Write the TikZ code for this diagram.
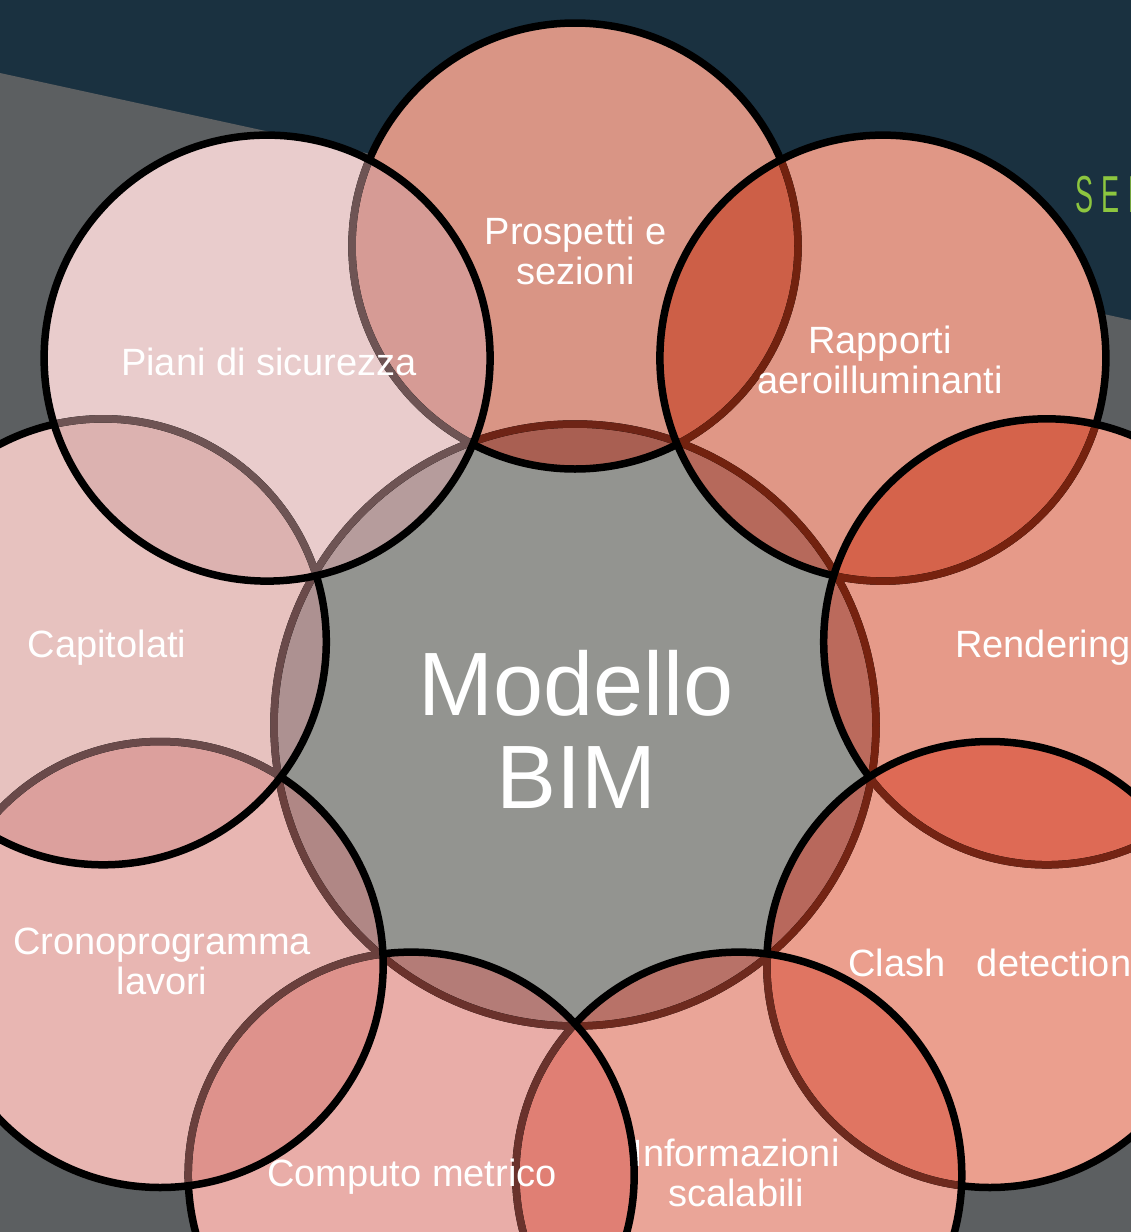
\documentclass[tikz,border=0pt]{standalone}
\usepackage{fontspec}
\setmainfont{Liberation Sans}
\begin{document}
\definecolor{navy}{HTML}{1A3140}
\definecolor{bggray}{HTML}{5C5F61}
\definecolor{cc}{HTML}{939490}
\definecolor{c1}{HTML}{D99585}
\definecolor{c2}{HTML}{E09786}
\definecolor{c3}{HTML}{E69A89}
\definecolor{c4}{HTML}{EB9F8E}
\definecolor{c5}{HTML}{EAA598}
\definecolor{c6}{HTML}{E9ADA8}
\definecolor{c7}{HTML}{E8B6B2}
\definecolor{c8}{HTML}{E7C2BF}
\definecolor{c9}{HTML}{E9CCCC}
\definecolor{L1}{HTML}{CD5F47}
\definecolor{L2}{HTML}{D5634B}
\definecolor{L3}{HTML}{DE6A55}
\definecolor{L4}{HTML}{E07562}
\definecolor{L5}{HTML}{E07F74}
\definecolor{L6}{HTML}{DE928C}
\definecolor{L7}{HTML}{DCA09D}
\definecolor{L8}{HTML}{DCB2B0}
\definecolor{L9}{HTML}{D69B95}
\definecolor{M1}{HTML}{A95F52}
\definecolor{M2}{HTML}{B6695B}
\definecolor{M3}{HTML}{BB6A5C}
\definecolor{M4}{HTML}{B8685C}
\definecolor{M5}{HTML}{B87268}
\definecolor{M6}{HTML}{B47C77}
\definecolor{M7}{HTML}{B08785}
\definecolor{M8}{HTML}{AD9191}
\definecolor{M9}{HTML}{B69C9C}
\definecolor{D1}{HTML}{6E2416}
\definecolor{D2}{HTML}{72220F}
\definecolor{D3}{HTML}{76220F}
\definecolor{D4}{HTML}{742414}
\definecolor{D5}{HTML}{6E2A1E}
\definecolor{D6}{HTML}{6A322C}
\definecolor{D7}{HTML}{6A403D}
\definecolor{D8}{HTML}{6A4A4A}
\definecolor{D9}{HTML}{6E5454}
\definecolor{sedgreen}{HTML}{8DC63F}
\begin{tikzpicture}[x=1pt,y=-1pt,
  ring/.style={line width=7.5pt},
  lbl/.style={text=white, font=\fontsize{38}{40}\selectfont, align=center, inner sep=0pt},
  big/.style={text=white, font=\fontsize{90}{93}\selectfont, align=center, inner sep=0pt}]
\useasboundingbox (0,0) rectangle (1131,1232);
\clip (0,0) rectangle (1131,1232);
\fill[navy] (0,0) rectangle (1131,1232);
\fill[bggray] (0,73) -- (1131,320) -- (1131,1232) -- (0,1232) -- cycle;
\node[anchor=base west, text=sedgreen, xscale=0.52, inner sep=0pt,
  font=\fontsize{52}{52}\selectfont] (sed) at (1075,212) {S\kern17pt E\kern17pt D};
\coordinate (c0) at (575,725);
\coordinate (c1) at (575,246);
\coordinate (c2) at (882.9,358.1);
\coordinate (c3) at (1046.7,641.8);
\coordinate (c4) at (989.8,964.5);
\coordinate (c5) at (738.8,1175.1);
\coordinate (c6) at (411.2,1175.1);
\coordinate (c7) at (160.2,964.5);
\coordinate (c8) at (103.3,641.8);
\coordinate (c9) at (267.1,358.1);
\fill[cc] (c0) circle[radius=301pt];
\foreach \i in {1,...,9} {\fill[c\i] (c\i) circle[radius=223pt];}
\foreach \a/\b in {1/2,2/3,3/4,4/5,5/6,6/7,7/8,8/9,9/1} {
  \begin{scope}
    \clip (c\a) circle[radius=223pt];
    \fill[L\a] (c\b) circle[radius=223pt];
  \end{scope}}
\foreach \a in {1,...,9} {
  \begin{scope}
    \clip (c0) circle[radius=301pt];
    \fill[M\a] (c\a) circle[radius=223pt];
  \end{scope}}
\foreach \a/\b in {1/2,2/3,3/4,4/5,5/6,6/7,7/8,8/9,9/1} {
  \begin{scope}
    \clip (c0) circle[radius=301pt];
    \clip (c\a) circle[radius=223pt];
    \fill[L\a!68!black] (c\b) circle[radius=223pt];
  \end{scope}}
\draw[ring] (c0) circle[radius=301pt];
\node[big] (t0) at (576,729) {Modello\\BIM};
\begin{scope}\clip (c1) circle[radius=223pt];
  \draw[ring,D1] (c0) circle[radius=301pt];\end{scope}
\draw[ring] (c1) circle[radius=223pt];
\node[lbl] (t1) at (575.5,251) {Prospetti e\\sezioni};
\begin{scope}\clip (c2) circle[radius=223pt];
  \draw[ring,D2] (c0) circle[radius=301pt];
  \draw[ring,D2] (c1) circle[radius=223pt];\end{scope}
\draw[ring] (c2) circle[radius=223pt];
\node[lbl] (t2) at (880,360) {Rapporti\\aeroilluminanti};
\begin{scope}\clip (c3) circle[radius=223pt];
  \draw[ring,D3] (c0) circle[radius=301pt];
  \draw[ring,D3] (c2) circle[radius=223pt];\end{scope}
\draw[ring] (c3) circle[radius=223pt];
\node[lbl,anchor=base west] (t3) at (955,657) {Rendering};
\begin{scope}\clip (c4) circle[radius=223pt];
  \draw[ring,D4] (c0) circle[radius=301pt];
  \draw[ring,D4] (c3) circle[radius=223pt];\end{scope}
\draw[ring] (c4) circle[radius=223pt];
\node[lbl,anchor=base west] (t4) at (848,976) {Clash\ \ \ detection};
\begin{scope}\clip (c5) circle[radius=223pt];
  \draw[ring,D5] (c0) circle[radius=301pt];
  \draw[ring,D5] (c4) circle[radius=223pt];\end{scope}
\node[lbl] (t5) at (736,1173) {Informazioni\\scalabili};
\draw[ring] (c5) circle[radius=223pt];
\begin{scope}\clip (c6) circle[radius=223pt];
  \draw[ring,D6] (c0) circle[radius=301pt];
  \draw[ring,D6] (c5) circle[radius=223pt];\end{scope}
\draw[ring] (c6) circle[radius=223pt];
\node[lbl,anchor=base] (t6) at (412,1186) {Computo metrico};
\begin{scope}\clip (c7) circle[radius=223pt];
  \draw[ring,D7] (c0) circle[radius=301pt];
  \draw[ring,D7] (c6) circle[radius=223pt];\end{scope}
\draw[ring] (c7) circle[radius=223pt];
\node[lbl] (t7) at (162,961) {Cronoprogramma\\lavori};
\begin{scope}\clip (c8) circle[radius=223pt];
  \draw[ring,D8] (c0) circle[radius=301pt];
  \draw[ring,D8] (c7) circle[radius=223pt];\end{scope}
\draw[ring] (c8) circle[radius=223pt];
\node[lbl,anchor=base] (t8) at (107,657) {Capitolati};
\begin{scope}\clip (c9) circle[radius=223pt];
  \draw[ring,D9] (c0) circle[radius=301pt];
  \draw[ring,D9] (c8) circle[radius=223pt];
  \draw[ring,D9] (c1) circle[radius=223pt];\end{scope}
\draw[ring] (c9) circle[radius=223pt];
\node[lbl,anchor=base] (t9) at (269,375) {Piani di sicurezza};
\end{tikzpicture}
\end{document}
